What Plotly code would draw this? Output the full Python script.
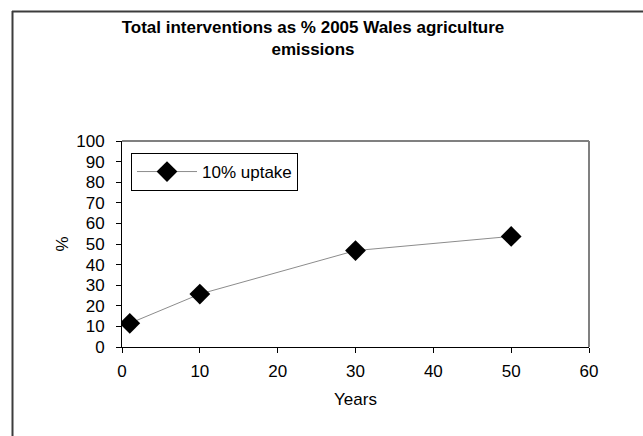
import plotly.graph_objects as go

# Years after start and total interventions as % of 2005 Wales agriculture emissions
years = [1, 10, 30, 50]
uptake_10 = [11.5, 25.7, 46.8, 53.7]
series_name = "10% uptake"

W, H = 643, 436
L, R, T, B = 122, 54, 141, 89
pw, ph = W - L - R, H - T - B

def px_x(x):
    return (x - L) / pw

def px_y(y):
    return 1 + (T - y) / ph

font = "Arial, Liberation Sans, sans-serif"
fs = 17

fig = go.Figure()
fig.add_trace(go.Scatter(
    x=years, y=uptake_10, mode="lines+markers", name=series_name,
    line=dict(color="#8c8c8c", width=1),
    marker=dict(symbol="diamond", size=16, color="black",
                line=dict(color="black", width=0)),
))

fig.update_layout(
    width=W, height=H,
    margin=dict(l=L, r=R, t=T, b=B),
    paper_bgcolor="white", plot_bgcolor="white",
    font=dict(family=font, size=fs, color="black"),
    title=dict(text="<b>Total interventions as % 2005 Wales agriculture<br>emissions</b>",
               x=313 / W, xanchor="center", xref="container",
               y=1 - 33 / H, yanchor="top", yref="container",
               font=dict(size=17, family=font, color="black")),
    showlegend=True,
    legend=dict(x=px_x(131), y=px_y(153), xanchor="left", yanchor="top",
                bordercolor="black", borderwidth=1, bgcolor="white",
                font=dict(size=fs, family=font), itemwidth=60,
                tracegroupgap=0),
    xaxis=dict(range=[0, 60], tick0=0, dtick=10, showline=True, linecolor="black",
               linewidth=1, ticks="outside", ticklen=5, tickcolor="black",
               ticklabelstandoff=4,
               showgrid=False, zeroline=False, mirror=False,
               title=dict(text="Years", standoff=12, font=dict(size=fs))),
    yaxis=dict(range=[0, 100], tick0=0, dtick=10, showline=True, linecolor="black",
               linewidth=1, ticks="outside", ticklen=5, tickcolor="black",
               ticklabelstandoff=8,
               showgrid=False, zeroline=False, mirror=False,
               title=dict(text="%", standoff=3, font=dict(size=fs))),
    shapes=[
        # grey frame on top and right of plot area
        dict(type="line", xref="paper", yref="paper", x0=0, x1=1, y0=1, y1=1,
             line=dict(color="#808080", width=2), layer="below"),
        dict(type="line", xref="paper", yref="paper", x0=1, x1=1, y0=0, y1=1,
             line=dict(color="#808080", width=2), layer="below"),
        # outer chart border
        dict(type="line", xref="paper", yref="paper", x0=px_x(12), x1=px_x(660),
             y0=px_y(11.5), y1=px_y(11.5), line=dict(color="#3c3c3c", width=2)),
        dict(type="line", xref="paper", yref="paper", x0=px_x(12.5), x1=px_x(12.5),
             y0=px_y(11), y1=px_y(460), line=dict(color="#3c3c3c", width=2)),
    ],
)

fig.write_html("out.html")
